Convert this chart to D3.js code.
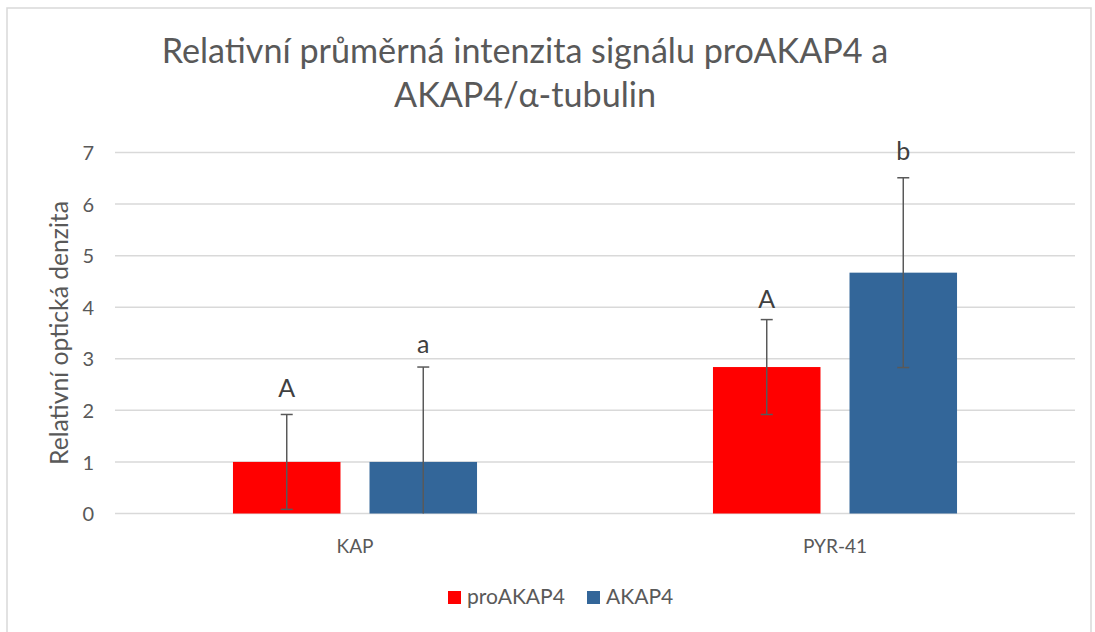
<!DOCTYPE html>
<html><head><meta charset="utf-8">
<script src="https://cdn.jsdelivr.net/npm/d3@7"></script>
<style>
html,body{margin:0;padding:0;background:#fff;}
svg{display:block;font-family:Lato,"Open Sans",sans-serif;}
</style></head>
<body><svg id="c" width="1095" height="632"></svg>
<script>
const categories = ["KAP", "PYR-41"];
const seriesNames = ["proAKAP4", "AKAP4"];
const proAKAP4 = [1.00, 2.84];
const AKAP4 = [1.00, 4.67];
const proAKAP4Err = [0.92, 0.92];
const AKAP4Err = [1.84, 1.84];
const proAKAP4Letters = ["A", "A"];
const AKAP4Letters = ["a", "b"];
const proAKAP4LetterY = [2.26, 3.98];
const AKAP4LetterY = [3.11, 6.85];
const yTicks = [0, 1, 2, 3, 4, 5, 6, 7];
const titleLines = ["Relativní průměrná intenzita signálu proAKAP4 a", "AKAP4/α-tubulin"];
const yTitle = "Relativní optická denzita";
const colors = ["#ff0000", "#336699"];

const svg = d3.select("#c");
const L = 115, R = 1075, T = 152.5, B = 513.5;

function fit(sel, target) {
  const n = sel.node(); const fs = +sel.attr("font-size");
  const w = n.getComputedTextLength();
  sel.attr("font-size", fs * target / w);
  return fs * target / w;
}

// outer border
svg.append("path").attr("d", "M7,640 V8 H1091 V640")
  .attr("fill", "none").attr("stroke", "#d9d9d9").attr("stroke-width", 1.5);

const x0 = d3.scaleBand().domain(categories).range([L, R]).paddingInner(0).paddingOuter(0);
const x1 = d3.scaleBand().domain(seriesNames).range([0, x0.bandwidth()]).paddingInner(0.2125).paddingOuter(0.864);
const y = d3.scaleLinear().domain([0, 7]).range([B, T]);

// gridlines
svg.append("g").selectAll("line").data(yTicks).join("line")
  .attr("x1", L).attr("x2", R).attr("y1", d => y(d)).attr("y2", d => y(d))
  .attr("stroke", "#d9d9d9").attr("stroke-width", 1.5);

// y axis labels
const yAxis = d3.axisLeft(y).tickValues(yTicks).tickSize(0).tickPadding(0).tickFormat(d3.format("d"));
const ya = svg.append("g").attr("transform", `translate(94,0)`).call(yAxis);
ya.select(".domain").remove();
ya.selectAll("text").attr("font-family", "Lato,sans-serif").attr("font-size", 20).attr("fill", "#595959").attr("dy", "0.36em");

// y title
const yt = svg.append("text").attr("transform", `translate(68,${(T + B) / 2 + 0}) rotate(-90)`)
  .attr("text-anchor", "middle").attr("font-size", 20).attr("fill", "#595959").text(yTitle);
fit(yt, 264);

const series = [
  {name: seriesNames[0], vals: proAKAP4, err: proAKAP4Err, letters: proAKAP4Letters, ly: proAKAP4LetterY, color: colors[0]},
  {name: seriesNames[1], vals: AKAP4, err: AKAP4Err, letters: AKAP4Letters, ly: AKAP4LetterY, color: colors[1]}
];

series.forEach(s => {
  const g = svg.append("g");
  categories.forEach((c, i) => {
    const xb = x0(c) + x1(s.name), w = x1.bandwidth(), cx = xb + w / 2;
    g.append("rect").attr("x", xb).attr("width", w).attr("y", y(s.vals[i])).attr("height", y(0) - y(s.vals[i])).attr("fill", s.color);
    const hi = s.vals[i] + s.err[i], lo = Math.max(0, s.vals[i] - s.err[i]);
    g.append("line").attr("x1", cx).attr("x2", cx).attr("y1", y(hi)).attr("y2", y(lo)).attr("stroke", "#595959").attr("stroke-width", 1.5);
    g.append("line").attr("x1", cx - 6).attr("x2", cx + 6).attr("y1", y(hi)).attr("y2", y(hi)).attr("stroke", "#595959").attr("stroke-width", 1.5);
    if (s.vals[i] - s.err[i] > 0)
      g.append("line").attr("x1", cx - 6).attr("x2", cx + 6).attr("y1", y(lo)).attr("y2", y(lo)).attr("stroke", "#595959").attr("stroke-width", 1.5);
    g.append("text").attr("x", cx).attr("y", y(s.ly[i])).attr("text-anchor", "middle")
      .attr("font-size", 25).attr("fill", "#404040").text(s.letters[i]);
  });
});

// x axis labels
const xa = svg.append("g").attr("transform", `translate(0,${B})`).call(d3.axisBottom(x0).tickSize(0).tickPadding(0));
xa.select(".domain").remove();
xa.selectAll("text").attr("font-family", "Lato,sans-serif").attr("font-size", 20).attr("fill", "#595959").attr("dy", null).attr("y", 39);
fit(xa.select("text"), 37);
xa.selectAll("text").attr("font-size", xa.select("text").attr("font-size"));

// title
const tt = svg.append("g");
titleLines.forEach((t, i) => {
  tt.append("text").attr("x", 525).attr("y", 63 + i * 44).attr("text-anchor", "middle")
    .attr("font-size", 30).attr("font-weight", 400).attr("fill", "#595959").text(t);
});
const tfs = fit(tt.select("text"), 727);
tt.selectAll("text").attr("font-size", tfs);

// legend
const lg = svg.append("g");
const legX = [448, 587];
let lfs = null;
series.forEach((s, i) => {
  lg.append("rect").attr("x", legX[i]).attr("y", 591).attr("width", 13).attr("height", 13).attr("fill", s.color);
  const t = lg.append("text").attr("x", legX[i] + 19).attr("y", 604).attr("font-size", 20).attr("fill", "#595959").text(s.name);
  if (i === 0) lfs = fit(t, 98); else t.attr("font-size", lfs);
});
</script></body></html>
